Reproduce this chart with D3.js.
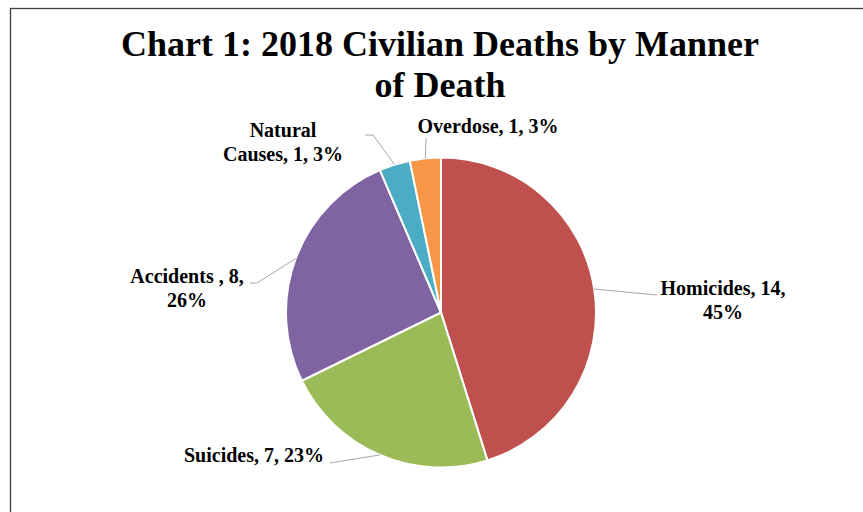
<!DOCTYPE html>
<html><head><meta charset="utf-8">
<script src="https://cdn.jsdelivr.net/npm/d3@7"></script>
<style>
html,body{margin:0;padding:0;background:#fff;}
svg{display:block;}
</style>
</head><body>
<svg id="chart" width="863" height="512"></svg>
<script>
const categories = ["Homicides", "Suicides", "Accidents ", "Natural Causes", "Overdose"];
const values = [14, 7, 8, 1, 1];
const colors = ["#C0504D", "#9BBB59", "#8064A2", "#4BACC6", "#F79646"];
const titleLines = ["Chart 1: 2018 Civilian Deaths by Manner", "of Death"];

const svg = d3.select("#chart");
const cx = 441, cy = 312.5, R = 155;

// frame
svg.append("rect").attr("x", 10.5).attr("y", 8.5).attr("width", 900).attr("height", 600)
  .attr("fill", "#fff").attr("stroke", "#404040").attr("stroke-width", 1.3);

// title
svg.append("g").selectAll("text").data(titleLines).join("text")
  .attr("x", 440).attr("y", (d, i) => 56 + i * 40.5)
  .attr("text-anchor", "middle")
  .style("font-family", "'Liberation Serif', 'Times New Roman', serif")
  .style("font-weight", "bold").style("font-size", "36px").attr("fill", "#000")
  .text(d => d);

const data = categories.map((c, i) => ({ name: c, value: values[i], color: colors[i] }));
const total = d3.sum(values);
const pie = d3.pie().value(d => d.value).sort(null);
const arcs = pie(data);
const arc = d3.arc().innerRadius(0).outerRadius(R);

const g = svg.append("g").attr("transform", `translate(${cx},${cy})`);
g.selectAll("path").data(arcs).join("path")
  .attr("d", arc).attr("fill", d => d.data.color)
  .attr("stroke", "#fff").attr("stroke-width", 2);

// label layout (relative to pie center): leader elbow points, text centre x, first baseline y
const labelLayout = [
  { pts: [[216, -17.5]], tx: 282, ty: -17.5, lines: 2 },
  { pts: [[-111, 150.5]], tx: -187, ty: 149.5, lines: 1 },
  { pts: [[-184, -29.5], [-191, -29.5]], tx: -254, ty: -29.5, lines: 2 },
  { pts: [[-68, -177.5], [-76, -177.5]], tx: -158, ty: -175.5, lines: 2 },
  { pts: [[-15, -174.5]], tx: 47, ty: -179.5, lines: 1 }
];

function labelText(d, L) {
  const pct = Math.round(d.data.value / total * 100) + "%";
  if (L.lines === 1) return [`${d.data.name}, ${d.data.value}, ${pct}`];
  if (d.data.name === "Natural Causes") return ["Natural", `Causes, ${d.data.value}, ${pct}`];
  return [`${d.data.name}, ${d.data.value},`, pct];
}

arcs.forEach((d, i) => {
  const L = labelLayout[i];
  const mid = (d.startAngle + d.endAngle) / 2;
  const start = [R * Math.sin(mid), -R * Math.cos(mid)];
  g.append("path")
    .attr("d", d3.line()([start, ...L.pts]))
    .attr("fill", "none").attr("stroke", "#a6a6a6").attr("stroke-width", 1);
  const t = g.append("text")
    .attr("text-anchor", "middle")
    .style("font-family", "'Liberation Serif', 'Times New Roman', serif")
    .style("font-weight", "bold").style("font-size", "20px").attr("fill", "#000");
  labelText(d, L).forEach((s, k) => {
    t.append("tspan").attr("x", L.tx).attr("y", L.ty + k * 23.5).text(s);
  });
});
</script>
</body></html>
